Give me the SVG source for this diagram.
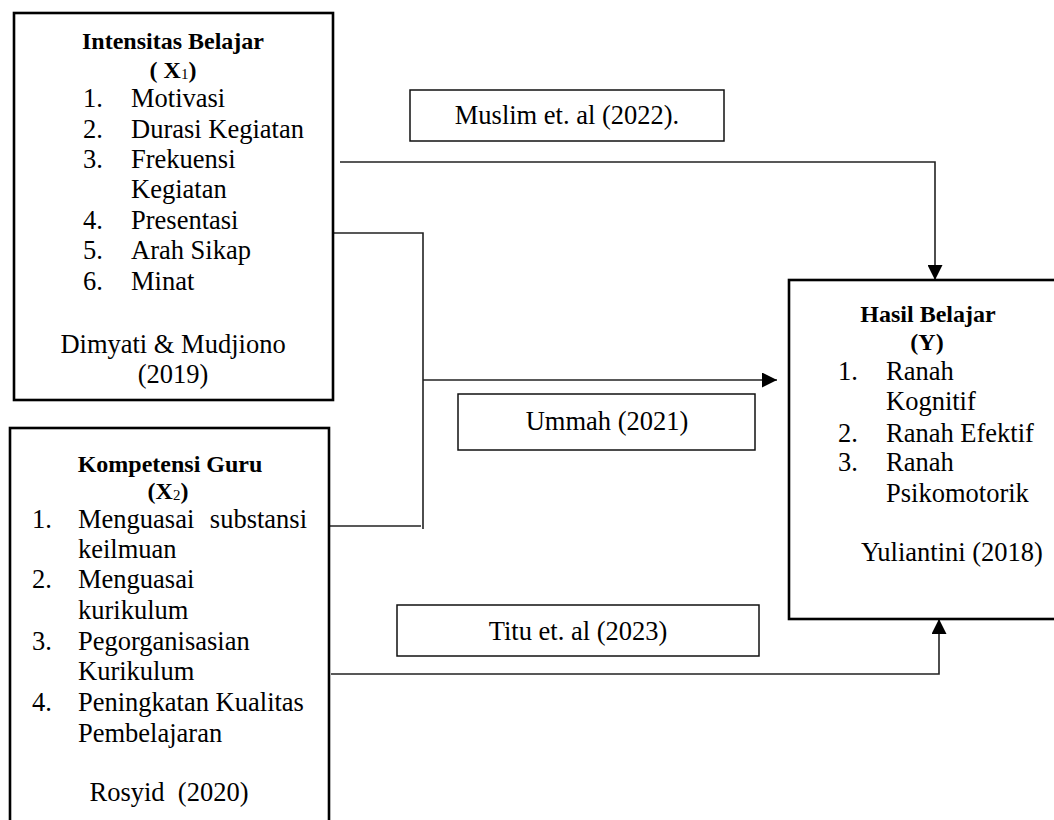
<svg xmlns="http://www.w3.org/2000/svg" width="1054" height="820" viewBox="0 0 1054 820">
<style>
.box{fill:#fff;stroke:#000;stroke-width:2.6}
.lbl{fill:#fff;stroke:#111;stroke-width:1.5}
.con{fill:none;stroke:#222;stroke-width:1.6}
text{font-family:"Liberation Serif","Times New Roman",serif;font-size:26.5px;fill:#000}
.t{font-weight:bold;font-size:24px}
.c{text-anchor:middle}
.sub{font-size:15px;font-weight:normal}
</style>
<defs>
<marker id="arrow" viewBox="0 0 14 14" refX="14" refY="7" markerWidth="15" markerHeight="15" orient="auto" markerUnits="userSpaceOnUse">
<path d="M0,0 L14,7 L0,14 z" fill="#000"/>
</marker>
</defs>
<rect width="1054" height="820" fill="#fff"/>

<g id="connectors">
<polyline class="con" points="340,162 935,162 935,280" marker-end="url(#arrow)"/>
<polyline class="con" points="333,233 423,233 423,529"/>
<line class="con" x1="329" y1="526" x2="421" y2="526"/>
<line class="con" x1="423" y1="380" x2="777" y2="380" marker-end="url(#arrow)"/>
<polyline class="con" points="331,674 939,674 939,619" marker-end="url(#arrow)"/>
</g>

<g id="node-x1">
<rect class="box" x="14" y="13" width="319" height="387"/>
<text class="t c" x="173" y="49">Intensitas Belajar</text>
<text class="t c" x="173" y="78">( X<tspan class="sub" dy="1">1</tspan><tspan dy="-1">)</tspan></text>
<text x="83" y="107">1.</text><text x="131" y="107">Motivasi</text>
<text x="83" y="138">2.</text><text x="131" y="138">Durasi Kegiatan</text>
<text x="83" y="168">3.</text><text x="131" y="168">Frekuensi</text>
<text x="131" y="198">Kegiatan</text>
<text x="83" y="229">4.</text><text x="131" y="229">Presentasi</text>
<text x="83" y="259">5.</text><text x="131" y="259">Arah Sikap</text>
<text x="83" y="290">6.</text><text x="131" y="290">Minat</text>
<text class="c" x="173" y="353">Dimyati &amp; Mudjiono</text>
<text class="c" x="173" y="383">(2019)</text>
</g>

<g id="node-x2">
<rect class="box" x="10" y="428" width="319" height="420"/>
<text class="t c" x="170" y="472">Kompetensi Guru</text>
<text class="t c" x="168" y="499">(X<tspan class="sub" dy="1">2</tspan><tspan dy="-1">)</tspan></text>
<text x="32" y="528">1.</text><text x="78" y="528">Menguasai</text><text x="307" y="528" text-anchor="end">substansi</text>
<text x="78" y="558">keilmuan</text>
<text x="32" y="588">2.</text><text x="78" y="588">Menguasai</text>
<text x="78" y="619">kurikulum</text>
<text x="32" y="650">3.</text><text x="78" y="650">Pegorganisasian</text>
<text x="78" y="680">Kurikulum</text>
<text x="32" y="711">4.</text><text x="78" y="711">Peningkatan Kualitas</text>
<text x="78" y="742">Pembelajaran</text>
<text class="c" x="169" y="801">Rosyid &#160;(2020)</text>
</g>

<g id="node-y">
<rect class="box" x="789" y="280" width="300" height="339"/>
<text class="t c" x="928" y="322">Hasil Belajar</text>
<text class="t c" x="927" y="350">(Y)</text>
<text x="838" y="380">1.</text><text x="886" y="380">Ranah</text>
<text x="886" y="410">Kognitif</text>
<text x="838" y="442">2.</text><text x="886" y="442">Ranah Efektif</text>
<text x="838" y="471">3.</text><text x="886" y="471">Ranah</text>
<text x="886" y="502">Psikomotorik</text>
<text class="c" x="952" y="561">Yuliantini (2018)</text>
</g>

<g id="label-muslim">
<rect class="lbl" x="410" y="90" width="314" height="51"/>
<text class="c" x="567" y="124">Muslim et. al (2022).</text>
</g>
<g id="label-ummah">
<rect class="lbl" x="458" y="394" width="297" height="56"/>
<text class="c" x="607" y="430">Ummah (2021)</text>
</g>
<g id="label-titu">
<rect class="lbl" x="397" y="605" width="362" height="51"/>
<text class="c" x="578" y="640">Titu et. al (2023)</text>
</g>
</svg>
